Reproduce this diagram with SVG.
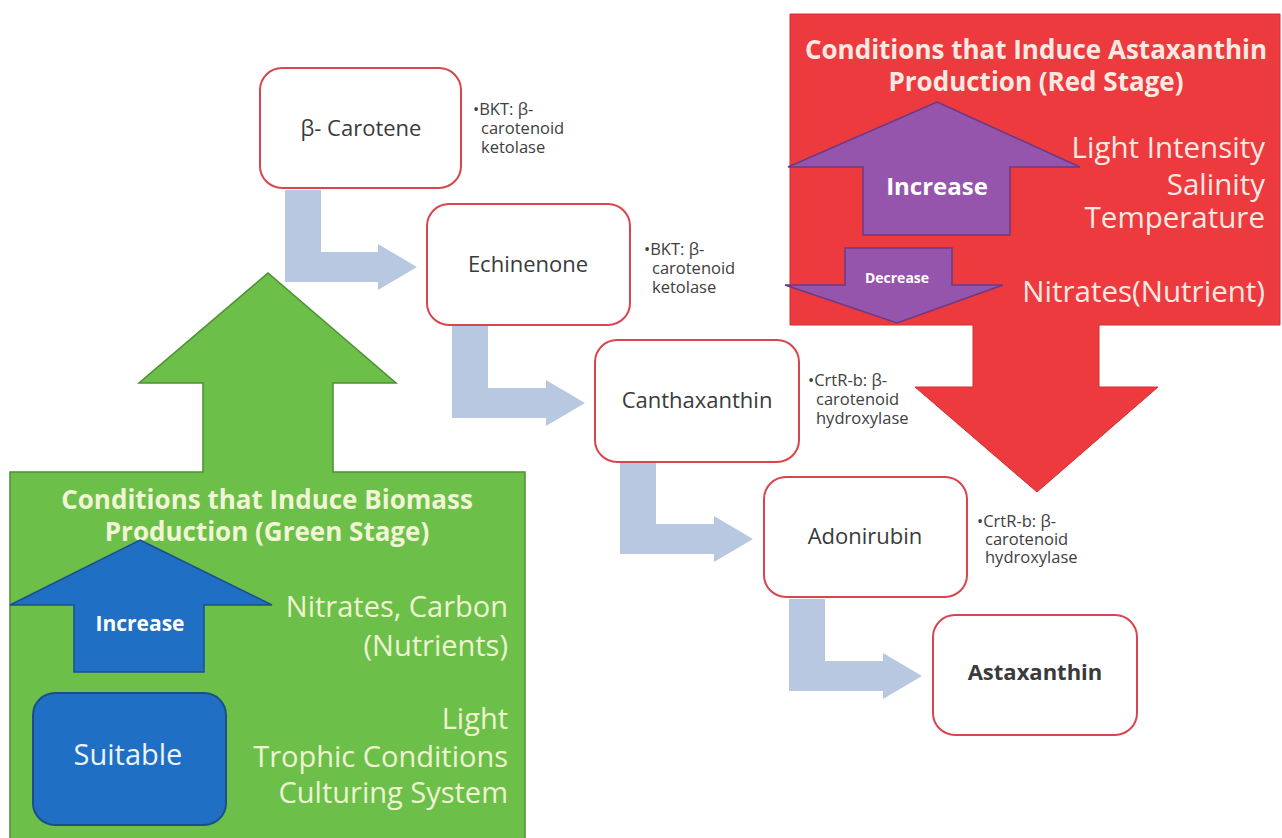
<svg xmlns="http://www.w3.org/2000/svg" width="1282" height="838" viewBox="0 0 1282 838">
<style>
.node rect{fill:#ffffff;stroke:#d9454f;stroke-width:2}
.ntxt{font-family:"Open Sans",Lato,sans-serif;font-size:22px;fill:#3a3a3a;text-anchor:middle}
.enz{font-family:"Open Sans",Lato,sans-serif;font-size:16.5px;fill:#404040}
.flow{fill:#b8c8e0}
.gtitle{font-family:"Open Sans",Lato,sans-serif;font-weight:bold;font-size:26px;fill:#f1f5d6;text-anchor:middle}
.gtxt{font-family:"Open Sans",Lato,sans-serif;font-size:29px;fill:#eef3d2;text-anchor:end}
.rtitle{font-family:"Open Sans",Lato,sans-serif;font-weight:bold;font-size:26px;fill:#fbe9e2;text-anchor:middle}
.rtxt{font-family:"Open Sans",Lato,sans-serif;font-size:29.5px;fill:#fbe9e2;text-anchor:end}
.wbold{font-family:"Open Sans",Lato,sans-serif;font-weight:bold;fill:#ffffff;text-anchor:middle}
</style>
<rect width="1282" height="838" fill="#ffffff"/>

<g id="green-stage">
<path d="M10,842 L10,472 L203,472 L203,383 L139,383 L268,273 L396,383 L333,383 L333,472 L525,472 L525,842 Z" fill="#6cc04a" stroke="#4d8f33" stroke-width="1.5"/>
<text class="gtitle" x="267" y="509">Conditions that Induce Biomass</text>
<text class="gtitle" x="267" y="541">Production (Green Stage)</text>
<text class="gtxt" x="508" y="617">Nitrates, Carbon</text>
<text class="gtxt" x="508" y="656">(Nutrients)</text>
<text class="gtxt" x="508" y="729">Light</text>
<text class="gtxt" x="508" y="767">Trophic Conditions</text>
<text class="gtxt" x="508" y="803">Culturing System</text>
</g>

<g id="green-increase">
<path d="M140,540 L272,605 L204,605 L204,672 L74,672 L74,605 L10,605 Z" fill="#1f70c4" stroke="#1b4f8a" stroke-width="1.5"/>
<text class="wbold" x="140" y="631" font-size="21">Increase</text>
</g>

<g id="suitable">
<rect x="33" y="693" width="193" height="132" rx="22" fill="#1f70c4" stroke="#1b4f8a" stroke-width="2"/>
<text x="128" y="765" font-family="'Open Sans',Lato,sans-serif" font-size="29" fill="#eef3f8" text-anchor="middle">Suitable</text>
</g>

<g id="red-stage">
<path d="M790,14 L1280,14 L1280,325 L1099,325 L1099,387 L1158,387 L1037,492 L915,387 L973,387 L973,325 L790,325 Z" fill="#ec3a3f" stroke="#d03035" stroke-width="1"/>
<text class="rtitle" x="1036" y="59">Conditions that Induce Astaxanthin</text>
<text class="rtitle" x="1036" y="91">Production (Red Stage)</text>
<text class="rtxt" x="1265" y="158">Light Intensity</text>
<text class="rtxt" x="1265" y="195">Salinity</text>
<text class="rtxt" x="1265" y="228">Temperature</text>
<text class="rtxt" x="1265" y="302">Nitrates(Nutrient)</text>
</g>

<g id="red-increase">
<path d="M937,102 L1080,167 L1010,167 L1010,235 L863,235 L863,167 L788,167 Z" fill="#9655ad" stroke="#6c3a84" stroke-width="1.5"/>
<text class="wbold" x="937" y="195" font-size="24">Increase</text>
</g>

<g id="red-decrease">
<path d="M845,248 L952,248 L952,285 L1003,285 L897,323 L785,285 L845,285 Z" fill="#9655ad" stroke="#6c3a84" stroke-width="1.5"/>
<text class="wbold" x="897" y="283" font-size="14">Decrease</text>
</g>

<g id="connectors">
<path class="flow" d="M285,190 L321,190 L321,252 L378,252 L378,244 L417,267 L378,290 L378,282 L285,282 Z"/>
<path class="flow" d="M452,326 L488,326 L488,388 L546,388 L546,380 L585,403 L546,426 L546,418 L452,418 Z"/>
<path class="flow" d="M620,462 L656,462 L656,524 L714,524 L714,516 L753,539 L714,562 L714,554 L620,554 Z"/>
<path class="flow" d="M789,599 L825,599 L825,661 L883,661 L883,653 L922,676 L883,699 L883,691 L789,691 Z"/>
</g>

<g id="node-beta-carotene" class="node">
<rect x="260" y="68" width="201" height="120" rx="22"/>
<text class="ntxt" x="361" y="136">β- Carotene</text>
</g>
<g id="node-echinenone" class="node">
<rect x="427" y="204" width="203" height="121" rx="22"/>
<text class="ntxt" x="528" y="272">Echinenone</text>
</g>
<g id="node-canthaxanthin" class="node">
<rect x="595" y="340" width="204" height="122" rx="22"/>
<text class="ntxt" x="697" y="408">Canthaxanthin</text>
</g>
<g id="node-adonirubin" class="node">
<rect x="764" y="477" width="203" height="120" rx="22"/>
<text class="ntxt" x="865" y="544">Adonirubin</text>
</g>
<g id="node-astaxanthin" class="node">
<rect x="933" y="615" width="204" height="120" rx="22"/>
<text class="ntxt" x="1035" y="680" font-weight="bold" font-size="20" fill="#111111">Astaxanthin</text>
</g>

<g id="enzyme-1">
<text class="enz" x="473" y="115">•BKT: β-<tspan x="481" dy="19">carotenoid</tspan><tspan x="481" dy="19">ketolase</tspan></text>
</g>
<g id="enzyme-2">
<text class="enz" x="644" y="255">•BKT: β-<tspan x="652" dy="19">carotenoid</tspan><tspan x="652" dy="19">ketolase</tspan></text>
</g>
<g id="enzyme-3">
<text class="enz" x="808" y="386">•CrtR-b: β-<tspan x="816" dy="19">carotenoid</tspan><tspan x="816" dy="19">hydroxylase</tspan></text>
</g>
<g id="enzyme-4">
<text class="enz" x="977" y="527">•CrtR-b: β-<tspan x="985" dy="18">carotenoid</tspan><tspan x="985" dy="18">hydroxylase</tspan></text>
</g>
</svg>
